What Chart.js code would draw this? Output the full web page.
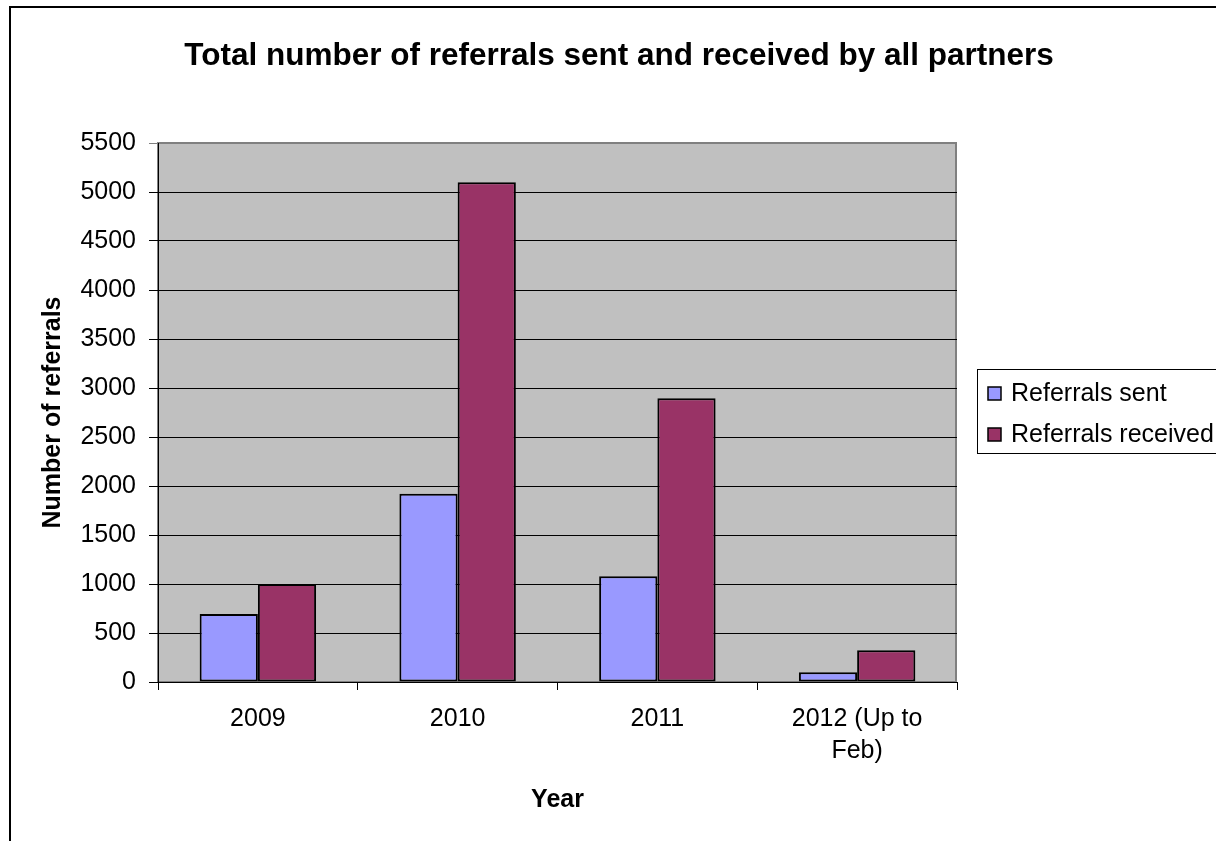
<!DOCTYPE html>
<html>
<head>
<meta charset="utf-8">
<title>Referrals</title>
<script src="https://cdn.jsdelivr.net/npm/chart.js@4/dist/chart.umd.min.js"></script>
<style>
  html, body { margin: 0; padding: 0; background: #fff; }
  #wrap { width: 1216px; height: 841px; }
</style>
</head>
<body>
<div id="wrap"><canvas id="chart" width="1216" height="841"></canvas></div>
<script>
// data
var categories = ["2009", "2010", "2011", "2012 (Up to Feb)"];
var tickLabels = [["2009"], ["2010"], ["2011"], ["2012 (Up to", "Feb)"]];
var seriesNames = ["Referrals sent", "Referrals received"];
var sent = [695, 1920, 1080, 100];
var received = [1000, 5100, 2895, 325];
var yTicks = [0, 500, 1000, 1500, 2000, 2500, 3000, 3500, 4000, 4500, 5000, 5500];

var chartTitle = "Total number of referrals sent and received by all partners";
var FONT = "'Liberation Sans', Arial, sans-serif";

// background, frame, title and legend box
var decor = {
    id: "decor",
    beforeDraw: function(chart){
        var ctx = chart.ctx, a = chart.chartArea;
        ctx.save();
        ctx.fillStyle = "#fff";
        ctx.fillRect(0, 0, chart.width, chart.height);
        // outer frame
        ctx.strokeStyle = "#000";
        ctx.lineWidth = 2;
        ctx.strokeRect(10, 7, 1400, 1000);
        // plot area
        ctx.fillStyle = "#c0c0c0";
        ctx.fillRect(a.left, a.top, a.right - a.left, a.bottom - a.top);
        ctx.strokeStyle = "#808080";
        ctx.lineWidth = 2;
        ctx.strokeRect(a.left, a.top, a.right - a.left - 1, a.bottom - a.top);
        ctx.restore();
    },
    afterDraw: function(chart){
        var ctx = chart.ctx;
        ctx.save();
        ctx.fillStyle = "#000";
        ctx.font = "bold 31.5px " + FONT;
        ctx.textAlign = "center";
        ctx.textBaseline = "alphabetic";
        ctx.fillText(chartTitle, 619, 65);

        // legend
        ctx.strokeStyle = "#000";
        ctx.lineWidth = 1;
        ctx.strokeRect(977.5, 369.5, 300, 84);
        ctx.font = "25px " + FONT;
        ctx.textAlign = "left";
        var rows = [401, 442];
        chart.data.datasets.forEach(function(ds, i){
            ctx.fillStyle = ds.backgroundColor;
            ctx.fillRect(988, rows[i] - 14, 13, 13);
            ctx.strokeStyle = "#000";
            ctx.lineWidth = 1.5;
            ctx.strokeRect(988, rows[i] - 14, 13, 13);
            ctx.fillStyle = "#000";
            ctx.fillText(ds.label, 1011, rows[i]);
        });
        ctx.restore();
    }
};

var chart = new Chart(document.getElementById("chart"), {
    type: "bar",
    data: {
        labels: categories,
        datasets: [
            { label: seriesNames[0], data: sent, backgroundColor: "#9999ff", borderColor: "#000", borderWidth: 2, borderSkipped: false },
            { label: seriesNames[1], data: received, backgroundColor: "#993366", borderColor: "#000", borderWidth: 2, borderSkipped: false }
        ]
    },
    options: {
        responsive: false,
        animation: false,
        events: [],
        layout: { padding: { top: 143, right: 259, bottom: 0, left: 0 } },
        datasets: { bar: { categoryPercentage: 0.583, barPercentage: 1.0 } },
        plugins: {
            legend: { display: false },
            title: { display: false },
            tooltip: { enabled: false }
        },
        scales: {
            x: {
                grid: { offset: true, drawOnChartArea: false, drawTicks: true, tickLength: 8, color: "#000", lineWidth: 1 },
                border: { display: true, color: "#000", width: 1 },
                ticks: {
                    color: "#000", padding: 13, maxRotation: 0, autoSkip: false,
                    font: { family: FONT, size: 25, lineHeight: 1.28 },
                    callback: function(v, i){ return tickLabels[i]; }
                },
                title: { display: true, text: "Year", color: "#000", padding: { top: 0, bottom: 26 },
                         font: { family: FONT, size: 25, weight: "bold", lineHeight: 1.2 } },
                afterFit: function(s){ s.height = 159; }
            },
            y: {
                min: 0, max: 5500,
                grid: {
                    drawTicks: true, tickLength: 9, lineWidth: 1,
                    color: function(c){ return c.tick && c.tick.value === 5500 ? "#808080" : "#000"; }
                },
                border: { display: true, color: "#000", width: 1 },
                afterBuildTicks: function(s){ s.ticks = yTicks.map(function(v){ return { value: v }; }); },
                ticks: {
                    color: "#000", padding: 13, font: { family: FONT, size: 25 },
                    callback: function(v){ return String(v); }
                },
                title: { display: true, text: "Number of referrals", color: "#000", padding: { top: 38, bottom: 0 },
                         font: { family: FONT, size: 25, weight: "bold", lineHeight: 1.2 } },
                afterFit: function(s){ s.width = 158; }
            }
        }
    },
    plugins: [decor]
});
</script>
</body>
</html>
